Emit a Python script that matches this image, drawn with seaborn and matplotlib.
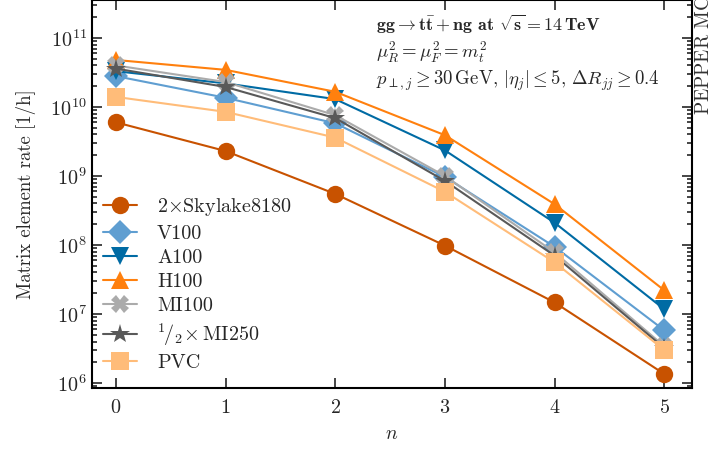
import numpy as np
import pandas as pd
import matplotlib
matplotlib.use("Agg")
import matplotlib.pyplot as plt
import seaborn as sns
from matplotlib.ticker import LogLocator, NullFormatter

n = [0, 1, 2, 3, 4, 5]
skylake = [6.0e9, 2.3e9, 5.5e8, 9.8e7, 1.47e7, 1.35e6]
v100 = [2.8e10, 1.36e10, 5.8e9, 9.7e8, 9.4e7, 5.8e6]
a100 = [3.3e10, 2.2e10, 1.3e10, 2.35e9, 2.1e8, 1.17e7]
h100 = [4.8e10, 3.45e10, 1.66e10, 3.9e9, 3.9e8, 2.2e7]
mi100 = [4.0e10, 2.3e10, 7.6e9, 1.0e9, 7.8e7, 3.4e6]
mi250 = [3.6e10, 1.95e10, 6.9e9, 8.5e8, 7.0e7, 3.2e6]
pvc = [1.4e10, 8.5e9, 3.6e9, 5.9e8, 5.6e7, 3.0e6]

labels = [r"2$\times$Skylake8180", "V100", "A100", "H100", "MI100",
          r"${}^{1}\!/{}_{2}\!\times$MI250", "PVC"]
series = [skylake, v100, a100, h100, mi100, mi250, pvc]
colors = ["#C85200", "#5F9ED1", "#006BA4", "#FF800E", "#ABABAB", "#595959", "#FFBC79"]
markers = ["o", "D", "v", "^", "X", "*", "s"]
msizes = [12.5, 12, 13.5, 13.5, 12.5, 15, 12.5]

sns.set_theme(style="ticks")
plt.rcParams.update({
    "font.family": "serif",
    "font.serif": ["cmr10", "DejaVu Serif"],
    "mathtext.fontset": "cm",
    "axes.formatter.use_mathtext": True,
    "axes.unicode_minus": False,
})

fig = plt.figure(figsize=(7.11, 4.5), dpi=100)
ax = fig.add_axes([0.129, 0.138, 0.844, 0.862])

rows = []
for lab, vals in zip(labels, series):
    for x, v in zip(n, vals):
        rows.append({"n": x, "rate": v, "device": lab})
df = pd.DataFrame(rows)

handles = []
for lab, col, mk, ms in zip(labels, colors, markers, msizes):
    sub = df[df["device"] == lab]
    sns.lineplot(data=sub, x="n", y="rate", ax=ax, color=col, marker=mk,
                 markersize=ms, markeredgewidth=0, linewidth=1.5, legend=False)
    handles.append(ax.lines[-1])

ax.set_yscale("log")
ax.set_ylim(10**5.93, 10**11.55)
ax.set_xlim(-0.22, 5.25)
ax.set_xticks(n)
ax.set_xlabel(r"$n$", fontsize=14, labelpad=6)
ax.set_ylabel("Matrix element rate [1/h]", fontsize=13.5, labelpad=10)
ax.yaxis.set_major_locator(LogLocator(base=10, numticks=20))
ax.yaxis.set_minor_locator(LogLocator(base=10, subs=np.arange(2, 10), numticks=100))
ax.yaxis.set_minor_formatter(NullFormatter())
ax.tick_params(which="both", direction="in", top=True, right=True, width=1.2)
ax.tick_params(which="major", length=7, labelsize=14.5)
ax.tick_params(axis="x", which="major", pad=8)
ax.tick_params(which="minor", length=3.5)
for sp in ax.spines.values():
    sp.set_linewidth(1.5)
    sp.set_color("black")

leg = ax.legend(handles, labels, loc="lower left", bbox_to_anchor=(-0.012, -0.005),
                frameon=False, fontsize=14.5, handlelength=1.7, labelspacing=0.3,
                handletextpad=1.0)

tx = 0.473
ax.text(tx, 0.938, r"$\mathbf{gg} \rightarrow \mathbf{t\bar{t}} + \mathbf{ng}$ $\mathbf{at}$ $\sqrt{\mathbf{s}} = \mathbf{14\,TeV}$",
        transform=ax.transAxes, fontsize=13, ha="left", va="center")
ax.text(tx, 0.866, r"$\mu_R^2 = \mu_F^2 = m_t^2$",
        transform=ax.transAxes, fontsize=13.5, ha="left", va="center")
ax.text(tx, 0.791, r"$p_{\perp,j} \geq 30\,\mathrm{GeV},\, |\eta_j| \leq 5,\, \Delta R_{jj} \geq 0.4$",
        transform=ax.transAxes, fontsize=13.5, ha="left", va="center")

fig.text(0.99, 0.745, r"P$\mathrm{EPPER}$ MC", rotation=90, fontsize=14,
         ha="center", va="bottom", color="#333333")

fig.savefig("out.png", dpi=100)
